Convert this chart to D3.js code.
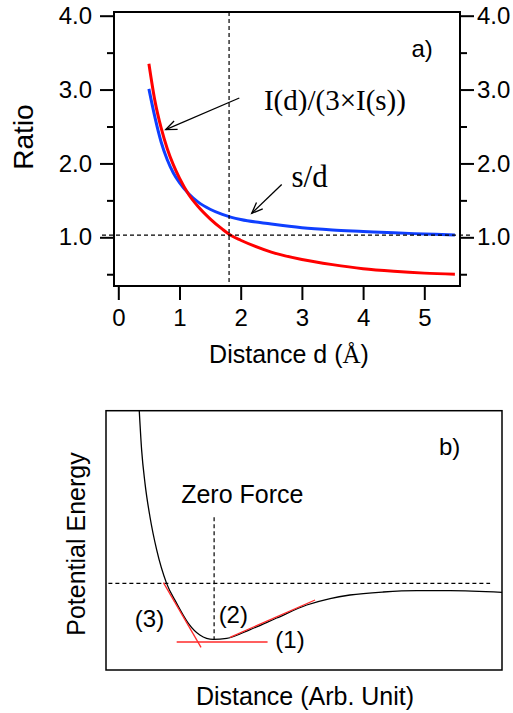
<!DOCTYPE html>
<html>
<head>
<meta charset="utf-8">
<script src="https://cdn.jsdelivr.net/npm/d3@7"></script>
<style>
  html, body { margin: 0; padding: 0; background: #fff; }
  svg { display: block; }
  text { font-family: "Liberation Sans", Arial, sans-serif; fill: #000; }
</style>
</head>
<body>
<div id="chart"></div>
<script>
// panel a) data
const distance = [0.5, 0.6, 0.7, 0.8, 0.9, 1.0, 1.15, 1.3, 1.5, 1.7, 1.85, 2.0, 2.5, 3.0, 3.5, 4.0, 4.5, 5.0, 5.5]
const intensityRatio = [3.35, 2.84, 2.48, 2.20, 1.98, 1.80, 1.58, 1.42, 1.25, 1.11, 1.02, 0.96, 0.80, 0.70, 0.63, 0.575, 0.54, 0.515, 0.50]
const sOverD = [3.01, 2.62, 2.29, 2.05, 1.87, 1.74, 1.59, 1.48, 1.38, 1.31, 1.27, 1.24, 1.18, 1.13, 1.10, 1.08, 1.06, 1.045, 1.03]
const xTicksA = [0, 1, 2, 3, 4, 5]
const yMajorA = [1, 2, 3, 4]
const yMinorA = [0.5, 1.5, 2.5, 3.5]
const zeroDistance = 1.81
const unityRatio = 1.03

// panel b) data (arbitrary units 0..100)
const sepB = [8.4, 9.0, 9.85, 11.1, 12.8, 15.3, 17.85, 20.8, 23.7, 27.1, 30.5, 36.4, 43.1, 50.7, 56.6, 61.6, 70.0, 78.5, 86.9, 100]
const energyB = [100, 84.8, 72.0, 59.1, 46.3, 33.4, 25.7, 18.0, 13.5, 11.8, 12.2, 15.6, 20.05, 25.07, 27.57, 28.92, 30.08, 30.58, 30.58, 29.97]
const zeroForceSep = 27.3
const zeroEnergy = 33.4
const tangents = [
  { label: '(1)', x: [17.85, 40.8], y: [10.8, 10.8] },
  { label: '(2)', x: [31.3, 52.8], y: [12.6, 27.0] },
  { label: '(3)', x: [14.5, 24.0], y: [33.7, 8.75] }
]

const width = 513, height = 713
const serif = '"Liberation Serif", "Times New Roman", serif'

const svg = d3.select('#chart').append('svg')
  .attr('width', width)
  .attr('height', height)

// arrowhead marker
svg.append('defs').append('marker')
  .attr('id', 'arrow')
  .attr('viewBox', '-12 -6 14 12')
  .attr('refX', 0).attr('refY', 0)
  .attr('markerWidth', 14).attr('markerHeight', 12)
  .attr('markerUnits', 'userSpaceOnUse')
  .attr('orient', 'auto')
  .append('path')
  .attr('d', 'M-11,-4.5 L0,0 L-11,4.5')
  .attr('fill', 'none')
  .attr('stroke', '#000')
  .attr('stroke-width', 1.3)


///////////////////////////////////////////////////////////////////////////////
//// PANEL A
///////////////////////////////////////////////////////////////////////////////

const frameA = { left: 114, right: 460, top: 12, bottom: 286 }
const x = d3.scaleLinear([0, 5], [118.3, 424.3])
const y = d3.scaleLinear([1, 4], [237.3, 15.7])

const gA = svg.append('g')

// curves
const lineA = values => d3.line()
  .x((d, i) => x(distance[i]))
  .y(d => y(d))
  .curve(d3.curveMonotoneX)(values)

gA.append('path')
  .attr('d', lineA(sOverD))
  .attr('fill', 'none')
  .attr('stroke', '#0f3fff')
  .attr('stroke-width', 3)

gA.append('path')
  .attr('d', lineA(intensityRatio))
  .attr('fill', 'none')
  .attr('stroke', '#ff0000')
  .attr('stroke-width', 3)

// dashed guides
gA.append('line')
  .attr('x1', x(zeroDistance)).attr('x2', x(zeroDistance))
  .attr('y1', frameA.top).attr('y2', frameA.bottom - 4)
  .attr('stroke', '#000').attr('stroke-width', 1.2)
  .attr('stroke-dasharray', '4,3')

gA.append('line')
  .attr('x1', frameA.left - 12).attr('x2', frameA.right + 13)
  .attr('y1', y(unityRatio)).attr('y2', y(unityRatio))
  .attr('stroke', '#000').attr('stroke-width', 1.2)
  .attr('stroke-dasharray', '4,3')

// frame
gA.append('rect')
  .attr('x', frameA.left).attr('y', frameA.top)
  .attr('width', frameA.right - frameA.left)
  .attr('height', frameA.bottom - frameA.top)
  .attr('fill', 'none')
  .attr('stroke', '#000')
  .attr('stroke-width', 2)

// axes
const styleAxis = (g, size) => {
  g.select('.domain').remove()
  g.selectAll('line').attr('stroke-width', 2)
  g.selectAll('text').attr('font-size', size).attr('font-family', '"Liberation Sans", Arial, sans-serif')
}

gA.append('g')
  .attr('transform', `translate(0,${frameA.bottom + 1})`)
  .call(d3.axisBottom(x).tickValues(xTicksA).tickFormat(d3.format('d')).tickSize(13).tickPadding(9))
  .call(g => styleAxis(g, 24))

gA.append('g')
  .attr('transform', `translate(${frameA.left},0)`)
  .call(d3.axisLeft(y).tickValues(yMajorA).tickFormat(d3.format('.1f')).tickSize(14).tickPadding(8))
  .call(g => styleAxis(g, 24))

gA.append('g')
  .attr('transform', `translate(${frameA.left},0)`)
  .call(d3.axisLeft(y).tickValues(yMinorA).tickFormat('').tickSize(7))
  .call(g => styleAxis(g, 24))

gA.append('g')
  .attr('transform', `translate(${frameA.right},0)`)
  .call(d3.axisRight(y).tickValues(yMajorA).tickFormat(d3.format('.1f')).tickSize(14).tickPadding(3))
  .call(g => styleAxis(g, 24))

gA.append('g')
  .attr('transform', `translate(${frameA.right},0)`)
  .call(d3.axisRight(y).tickValues(yMinorA).tickFormat('').tickSize(7))
  .call(g => styleAxis(g, 24))

// axis titles
const titleA = gA.append('text')
  .attr('x', 289).attr('y', 363)
  .attr('text-anchor', 'middle')
  .attr('font-size', 25)
titleA.append('tspan').text('Distance d (')
titleA.append('tspan').style('font-family', serif).text('Å')
titleA.append('tspan').text(')')

gA.append('text')
  .attr('transform', 'translate(33,137) rotate(-90)')
  .attr('text-anchor', 'middle')
  .attr('font-size', 28)
  .text('Ratio')

// annotations
gA.append('text')
  .attr('x', x(4.79)).attr('y', y(3.44))
  .attr('font-size', 24)
  .text('a)')

gA.append('text')
  .attr('x', x(2.38)).attr('y', y(2.72))
  .attr('font-size', 29)
  .style('font-family', serif)
  .text('I(d)/(3×I(s))')

gA.append('text')
  .attr('x', x(2.83)).attr('y', y(1.684))
  .attr('font-size', 31)
  .style('font-family', serif)
  .text('s/d')

gA.append('line')
  .attr('x1', x(1.977)).attr('y1', y(2.886))
  .attr('x2', x(0.775)).attr('y2', y(2.459))
  .attr('stroke', '#000').attr('stroke-width', 1.3)
  .attr('marker-end', 'url(#arrow)')

gA.append('line')
  .attr('x1', x(2.67)).attr('y1', y(1.716))
  .attr('x2', x(2.18)).attr('y2', y(1.324))
  .attr('stroke', '#000').attr('stroke-width', 1.3)
  .attr('marker-end', 'url(#arrow)')


///////////////////////////////////////////////////////////////////////////////
//// PANEL B
///////////////////////////////////////////////////////////////////////////////

const frameB = { left: 106, right: 502, top: 410.7, bottom: 670 }
const xB = d3.scaleLinear([0, 100], [frameB.left, frameB.right])
const yB = d3.scaleLinear([0, 100], [frameB.bottom, frameB.top])

const gB = svg.append('g')

// dashed guides
gB.append('line')
  .attr('x1', xB(0.6)).attr('x2', xB(97))
  .attr('y1', yB(zeroEnergy)).attr('y2', yB(zeroEnergy))
  .attr('stroke', '#000').attr('stroke-width', 1.2)
  .attr('stroke-dasharray', '4,3')

gB.append('line')
  .attr('x1', xB(zeroForceSep)).attr('x2', xB(zeroForceSep))
  .attr('y1', yB(58.9)).attr('y2', yB(11.8))
  .attr('stroke', '#000').attr('stroke-width', 1.2)
  .attr('stroke-dasharray', '4,3')

// potential curve
gB.append('path')
  .attr('d', d3.line()
    .x((d, i) => xB(sepB[i]))
    .y(d => yB(d))
    .curve(d3.curveMonotoneX)(energyB))
  .attr('fill', 'none')
  .attr('stroke', '#000')
  .attr('stroke-width', 1.3)

// tangent lines
gB.selectAll('.tangent')
  .data(tangents)
  .join('line')
  .attr('class', 'tangent')
  .attr('x1', d => xB(d.x[0])).attr('y1', d => yB(d.y[0]))
  .attr('x2', d => xB(d.x[1])).attr('y2', d => yB(d.y[1]))
  .attr('stroke', '#ff2a2a')
  .attr('stroke-width', 1.3)

// frame
gB.append('rect')
  .attr('x', frameB.left).attr('y', frameB.top)
  .attr('width', frameB.right - frameB.left)
  .attr('height', frameB.bottom - frameB.top)
  .attr('fill', 'none')
  .attr('stroke', '#000')
  .attr('stroke-width', 1.5)

// labels
const labelPos = { '(1)': [290, 648], '(2)': [233.3, 623], '(3)': [149.5, 627] }
gB.selectAll('.tlabel')
  .data(tangents)
  .join('text')
  .attr('class', 'tlabel')
  .attr('x', d => labelPos[d.label][0])
  .attr('y', d => labelPos[d.label][1])
  .attr('text-anchor', 'middle')
  .attr('font-size', 24)
  .text(d => d.label)

gB.append('text')
  .attr('x', 242.3).attr('y', 503)
  .attr('text-anchor', 'middle')
  .attr('font-size', 25)
  .text('Zero Force')

gB.append('text')
  .attr('x', 439).attr('y', 455)
  .attr('font-size', 24)
  .text('b)')

gB.append('text')
  .attr('x', 305).attr('y', 705)
  .attr('text-anchor', 'middle')
  .attr('font-size', 25)
  .text('Distance (Arb. Unit)')

gB.append('text')
  .attr('transform', 'translate(85,544) rotate(-90)')
  .attr('text-anchor', 'middle')
  .attr('font-size', 25)
  .text('Potential Energy')
</script>
</body>
</html>
